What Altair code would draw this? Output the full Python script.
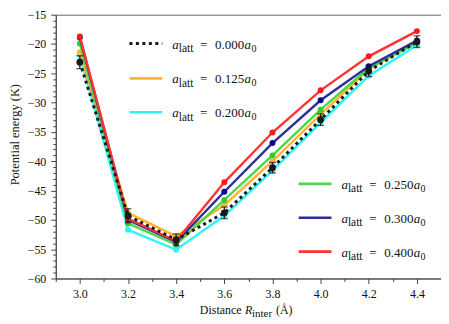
import altair as alt
import pandas as pd

# ---------------- data ----------------
distance = [3.0, 3.2, 3.4, 3.6, 3.8, 4.0, 4.2, 4.4]

e_000 = [-23.1, -49.3, -53.4, -48.8, -41.1, -32.9, -24.6, -19.6]
err_000 = [1.1, 1.2, 1.0, 1.0, 0.9, 1.0, 0.95, 1.0]
e_125 = [-21.4, -48.8, -52.8, -47.5, -40.0, -32.0, -24.3, -19.7]
e_200 = [-21.9, -51.7, -55.1, -49.3, -41.6, -33.4, -25.4, -20.2]
e_250 = [-19.9, -50.6, -54.2, -46.6, -39.0, -31.2, -24.1, -19.8]
e_300 = [-18.9, -50.0, -53.8, -45.2, -36.9, -29.6, -23.8, -19.4]
e_400 = [-18.7, -49.8, -53.6, -43.6, -35.1, -27.9, -22.1, -17.8]

legend_numbers = ["0.000", "0.125", "0.200", "0.250", "0.300", "0.400"]

# ---------------- styling ----------------
FONT = "Liberation Serif"
C_BLACK = "#1a1a1a"
C_ORANGE = "#FFB52E"
C_CYAN = "#2EF5F5"
C_GREEN = "#4CD64C"
C_BLUE = "#2E2E9A"
C_RED = "#FF3333"
M_GREEN = "#33CC33"
M_BLUE = "#0A0A8C"
M_RED = "#FF1A1A"

W, H = 387, 265
XMIN, XMAX = 2.9, 4.5
YMIN, YMAX = -60, -15


def px_x(px):  # horizontal pixel inside plot -> data
    return XMIN + px / W * (XMAX - XMIN)


def px_y(py):  # vertical pixel inside plot -> data
    return YMAX - py / H * (YMAX - YMIN)


xticks = [round(2.9 + 0.1 * i, 1) for i in range(17)]
yticks = list(range(-60, -14))

major_x = "abs(datum.value*5 - round(datum.value*5)) < 0.001"
major_y = "datum.value % 5 === 0"

XS = alt.Scale(domain=[XMIN, XMAX], nice=False, zero=False)
YS = alt.Scale(domain=[YMIN, YMAX], nice=False, zero=False)
XA = alt.Axis(
    values=xticks,
    title=None,
    grid=False,
    labelExpr=f"({major_x}) ? format(datum.value, '.1f') : ''",
    labelOverlap=False,
    labelFont=FONT,
    labelFontSize=12,
    tickSize={"condition": {"test": major_x, "value": 5}, "value": 3},
    labelPadding=5,
)
YA = alt.Axis(
    values=yticks,
    title="Potential energy (K)",
    grid=False,
    labelExpr=f"({major_y}) ? datum.label : ''",
    labelOverlap=False,
    labelFont=FONT,
    labelFontSize=12,
    tickSize={"condition": {"test": major_y, "value": 5}, "value": 3},
    labelPadding=5,
    titleFont=FONT,
    titleFontSize=12.5,
    titleFontWeight="normal",
    titleX=-41,
    titleY=120,
    titleAngle=270,
    titleAlign="center",
    titleBaseline="middle",
)


def XF(f="x"):
    return alt.X(f"{f}:Q", scale=XS, axis=XA)


def YF(f="y"):
    return alt.Y(f"{f}:Q", scale=YS, axis=YA)


layers = []

# coloured series (draw order: cyan, orange, green, blue, red)
series = [
    (e_200, C_CYAN, C_CYAN),
    (e_125, C_ORANGE, C_ORANGE),
    (e_250, C_GREEN, M_GREEN),
    (e_300, C_BLUE, M_BLUE),
    (e_400, C_RED, M_RED),
]
for vals, lc, mc in series:
    df = pd.DataFrame({"x": distance, "y": vals})
    base = alt.Chart(df)
    layers.append(base.mark_line(strokeWidth=2.4, color=lc).encode(x=XF(), y=YF()))
    layers.append(
        base.mark_point(filled=True, size=36, opacity=1, color=mc).encode(x=XF(), y=YF())
    )

# black reference series with error bars
dfb = pd.DataFrame({"x": distance, "y": e_000, "err": err_000})
bb = alt.Chart(dfb).transform_calculate(
    lo="datum.y - datum.err", hi="datum.y + datum.err"
)
layers.append(
    alt.Chart(dfb)
    .mark_line(strokeWidth=3, color=C_BLACK, strokeDash=[3, 3.5], strokeCap="butt")
    .encode(x=XF(), y=YF())
)
layers.append(
    bb.mark_rule(color=C_BLACK, strokeWidth=1.3).encode(x=XF(), y=YF("lo"), y2="hi:Q")
)
for f in ["lo", "hi"]:
    layers.append(
        bb.mark_tick(color=C_BLACK, thickness=1.3, size=7, orient="horizontal").encode(
            x=XF(), y=YF(f)
        )
    )
layers.append(
    alt.Chart(dfb).mark_point(filled=True, size=48, opacity=1, color=C_BLACK)
    .encode(x=XF(), y=YF())
)

# ---------------- manual legend ----------------
# rows: (line start px, line end px, text start px, row y px) in plot coords
upper = [(74, 107, 117, 29), (74, 107, 117, 64), (74, 107, 117, 98)]
lower = [(244, 277, 287, 170), (244, 277, 287, 204), (244, 277, 287, 238)]
rows = upper + lower
colors = [C_BLACK, C_ORANGE, C_CYAN, C_GREEN, C_BLUE, C_RED]
leg = pd.DataFrame(
    {
        "x": [px_x(r[0]) for r in rows],
        "x2": [px_x(r[1]) for r in rows],
        "xt": [px_x(r[2]) for r in rows],
        "y": [px_y(r[3]) for r in rows],
        "num": legend_numbers,
        "color": colors,
        "dotted": [True, False, False, False, False, False],
    }
)
lb = alt.Chart(leg)
layers.append(
    lb.transform_filter("datum.dotted")
    .mark_rule(strokeWidth=3, strokeDash=[3, 3.5], strokeCap="butt")
    .encode(x=XF(), x2="x2:Q", y=YF(), color=alt.Color("color:N", scale=None))
)
layers.append(
    lb.transform_filter("!datum.dotted")
    .mark_rule(strokeWidth=2.6)
    .encode(x=XF(), x2="x2:Q", y=YF(), color=alt.Color("color:N", scale=None))
)

parts = [
    ("a", 0, 5, 13, "italic"),
    ("latt", 6.5, 8.5, 11.5, "normal"),
    ("=", 28, 5, 13, "normal"),
    (None, 43, 5, 13, "normal"),
    ("a", 72.5, 5, 13, "italic"),
    ("0", 79.5, 8, 10, "normal"),
]
for txt, dx, dy, fs, style in parts:
    kw = dict(align="left", baseline="alphabetic", dx=dx, dy=dy, font=FONT,
              fontSize=fs, fontStyle=style, color="#111")
    if txt is None:
        layers.append(lb.mark_text(**kw).encode(x=XF("xt"), y=YF(), text="num:N"))
    else:
        layers.append(lb.mark_text(text=txt, **kw).encode(x=XF("xt"), y=YF()))

# ---------------- manual x-axis title ----------------
ttl = pd.DataFrame({"x": [px_x(144.7)], "y": [px_y(301)]})
tb = alt.Chart(ttl)
tparts = [
    ("Distance", 0, 0, 12, "normal"),
    ("R", 45.5, 0, 12, "italic"),
    ("inter", 52.5, 3, 11, "normal"),
    ("(Å)", 76.5, 0, 12, "normal"),
]
for txt, dx, dy, fs, style in tparts:
    layers.append(
        tb.mark_text(text=txt, align="left", baseline="alphabetic", dx=dx, dy=dy,
                     font=FONT, fontSize=fs, fontStyle=style, color="#111")
        .encode(x=XF(), y=YF())
    )

chart = (
    alt.layer(*layers)
    .properties(
        width=W,
        height=H,
        autosize=alt.AutoSizeParams(type="none"),
        padding={"left": 48, "top": 6, "right": 0, "bottom": 45},
    )
    .configure_view(stroke="#666", strokeWidth=1)
    .configure_axis(
        domainColor="#444",
        domainWidth=1,
        tickColor="#444",
        tickWidth=1,
        labelFont=FONT,
        labelFontSize=12,
        labelColor="#111",
        titleFont=FONT,
        titleFontSize=12.5,
        titleFontWeight="normal",
        titleColor="#111",
    )
)

chart.save("out.html", embed_options={"renderer": "svg", "actions": False})
